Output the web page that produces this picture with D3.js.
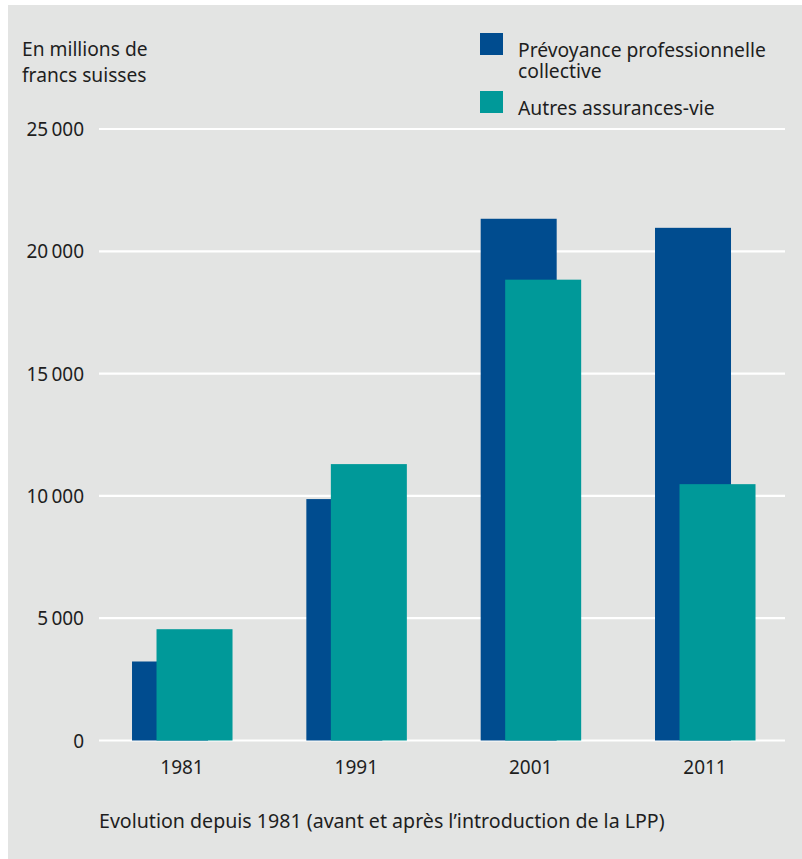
<!DOCTYPE html>
<html>
<head>
<meta charset="utf-8">
<script src="https://cdn.jsdelivr.net/npm/d3@7"></script>
<style>
  html, body { margin: 0; padding: 0; background: #ffffff; }
  svg { display: block; }
  text { font-family: "Noto Sans", "Open Sans", sans-serif; fill: #1e1e1e; }
</style>
</head>
<body>
<svg id="chart" width="802" height="859"></svg>
<script>
const categories = ["1981", "1991", "2001", "2011"];
const seriesNames = ["Prévoyance professionnelle collective", "Autres assurances-vie"];
const prevoyance = [3230, 9870, 21330, 20960];
const autres = [4550, 11300, 18840, 10480];
const yTicks = [0, 5000, 10000, 15000, 20000, 25000];
const yTitle = ["En millions de", "francs suisses"];
const xTitle = "Evolution depuis 1981 (avant et après l\u2019introduction de la LPP)";
const legendLines = [["Prévoyance professionnelle", "collective"], ["Autres assurances-vie"]];
const colors = ["#004c8f", "#009999"];

const svg = d3.select("#chart");
const W = 802, H = 859;

svg.append("rect").attr("x", 8).attr("y", 5).attr("width", W - 8).attr("height", H - 5).attr("fill", "#e3e4e3");

const plotLeft = 99, plotRight = 785;
const y = d3.scaleLinear().domain([0, 25000]).range([740.5, 129]);
const x0 = d3.scaleBand().domain(categories).range([plotLeft, plotRight])
  .paddingInner(0.4264).paddingOuter(0.1807).align(0.524);
const x1 = d3.scalePoint().domain(seriesNames).range([0, 24.5]);
const barW = 76;

// gridlines
svg.append("g").selectAll("line").data(yTicks).join("line")
  .attr("x1", plotLeft).attr("x2", plotRight)
  .attr("y1", d => y(d)).attr("y2", d => y(d))
  .attr("stroke", "#ffffff").attr("stroke-width", 2.2);

// y tick labels
const fmt = d => d === 0 ? "0" : d3.format(",")(d).replace(",", "\u2009");
svg.append("g").selectAll("text").data(yTicks).join("text")
  .attr("x", 84).attr("y", d => y(d) + 7)
  .attr("text-anchor", "end").attr("font-size", 19)
  .text(fmt);

// bars
const data = categories.map((c, i) => ({cat: c, vals: [prevoyance[i], autres[i]]}));
const groups = svg.append("g").selectAll("g").data(data).join("g")
  .attr("transform", d => `translate(${x0(d.cat)},0)`);
groups.selectAll("rect").data(d => d.vals.map((v, j) => ({name: seriesNames[j], v, j})))
  .join("rect")
  .attr("x", d => x1(d.name)).attr("width", barW)
  .attr("y", d => y(d.v)).attr("height", d => y(0) - y(d.v))
  .attr("fill", d => colors[d.j]);

// x labels
svg.append("g").selectAll("text").data(categories).join("text")
  .attr("x", d => x0(d) + x0.bandwidth() / 2).attr("y", 774)
  .attr("text-anchor", "middle").attr("font-size", 19)
  .text(d => d);

// y title
svg.append("g").selectAll("text").data(yTitle).join("text")
  .attr("x", 22).attr("y", (d, i) => 56 + i * 25.5)
  .attr("font-size", 19.2).text(d => d);

// x title
svg.append("text").attr("x", 99).attr("y", 828).attr("font-size", 19.6).text(xTitle);

// legend
const legY = [33, 91];
const leg = svg.append("g").selectAll("g").data(legendLines).join("g");
leg.append("rect").attr("x", 480).attr("y", (d, i) => legY[i]).attr("width", 23).attr("height", 22)
  .attr("fill", (d, i) => colors[i]);
leg.each(function(lines, i) {
  d3.select(this).selectAll("text").data(lines).join("text")
    .attr("x", 518).attr("y", (d, k) => legY[i] + 24 + k * 20.5)
    .attr("font-size", 19.3).text(d => d);
});
</script>
</body>
</html>
